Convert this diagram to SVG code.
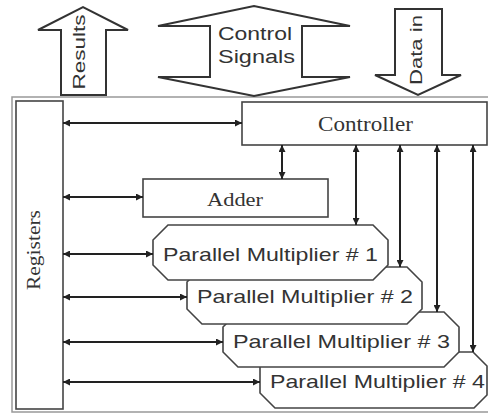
<svg xmlns="http://www.w3.org/2000/svg" width="488" height="415" viewBox="0 0 488 415">
<style>
.box{fill:#fff;stroke:#444;stroke-width:1.6}
.big{fill:#fff;stroke:#333;stroke-width:2;stroke-linejoin:miter}
.serif{font-family:"Liberation Serif","Times New Roman",serif;fill:#333}
.sans{font-family:"Liberation Sans",Arial,sans-serif;fill:#333}
.con{stroke:#222;stroke-width:2;fill:none;marker-start:url(#ah);marker-end:url(#ah)}
</style>
<defs>
<marker id="ah" viewBox="0 0 10 10" refX="10" refY="5" markerUnits="userSpaceOnUse" markerWidth="7" markerHeight="7" orient="auto-start-reverse">
<path d="M0,0 L10,5 L0,10 z" fill="#222"/>
</marker>
</defs>
<rect width="488" height="415" fill="#fff"/>
<g id="frame"><rect x="12" y="97" width="480" height="315" fill="none" stroke="#999" stroke-width="1.5"/></g>
<g id="results">
<polygon class="big" points="61,95 61,30 38,30 83,7 128,30 106,30 106,95"/>
<text class="sans" font-size="17" text-anchor="middle" textLength="75" lengthAdjust="spacingAndGlyphs" transform="translate(85,52) rotate(-90)">Results</text>
</g>
<g id="control-signals">
<polygon class="big" points="210,26 158,26 254,6 350,26 302,26 302,77 350,77 254,96 158,77 210,77"/>
<text class="sans" font-size="18" x="218" y="40" textLength="74" lengthAdjust="spacingAndGlyphs">Control</text>
<text class="sans" font-size="18" x="218" y="63" textLength="77" lengthAdjust="spacingAndGlyphs">Signals</text>
</g>
<g id="data-in">
<polygon class="big" points="395,9 442,9 442,75 461,75 418,95 375,75 395,75"/>
<text class="sans" font-size="16" text-anchor="middle" textLength="70" lengthAdjust="spacingAndGlyphs" transform="translate(422,50) rotate(-90)">Data in</text>
</g>
<g id="registers">
<rect class="box" x="16" y="101" width="47" height="308"/>
<text class="serif" font-size="18" text-anchor="middle" textLength="80" lengthAdjust="spacingAndGlyphs" transform="translate(40,250) rotate(-90)">Registers</text>
</g>
<g id="controller">
<rect class="box" x="242" y="102" width="245" height="43"/>
<text class="serif" font-size="20" x="365.5" y="131" text-anchor="middle" textLength="95" lengthAdjust="spacingAndGlyphs">Controller</text>
</g>
<g id="adder">
<rect class="box" x="143" y="179" width="185" height="38"/>
<text class="serif" font-size="18" x="235" y="206" text-anchor="middle" textLength="56" lengthAdjust="spacingAndGlyphs">Adder</text>
</g>
<g id="mult4">
<polygon class="box" points="275,352 473,352 487,366 487,395 474,408 275,408 260,393 260,367"/>
<text class="sans" font-size="19" x="270" y="388" textLength="215" lengthAdjust="spacingAndGlyphs">Parallel Multiplier # 4</text>
</g>
<g id="mult3">
<polygon class="box" points="238,312 444,312 459,327 459,352 444,367 238,367 223,352 223,327"/>
<text class="sans" font-size="19" x="233" y="348" textLength="217" lengthAdjust="spacingAndGlyphs">Parallel Multiplier # 3</text>
</g>
<g id="mult2">
<polygon class="box" points="202,267 407,267 422,282 422,309 407,324 202,324 187,309 187,282"/>
<text class="sans" font-size="19" x="197" y="303" textLength="216" lengthAdjust="spacingAndGlyphs">Parallel Multiplier # 2</text>
</g>
<g id="mult1">
<polygon class="box" points="168,225 373,225 388,240 388,265 373,280 168,280 153,265 153,240"/>
<text class="sans" font-size="19" x="163" y="261" textLength="215" lengthAdjust="spacingAndGlyphs">Parallel Multiplier # 1</text>
</g>
<g id="connectors">
<line class="con" x1="63" y1="123" x2="242" y2="123"/>
<line class="con" x1="63" y1="197" x2="143" y2="197"/>
<line class="con" x1="63" y1="254" x2="153" y2="254"/>
<line class="con" x1="63" y1="297" x2="187" y2="297"/>
<line class="con" x1="63" y1="342" x2="223" y2="342"/>
<line class="con" x1="63" y1="382" x2="260" y2="382"/>
<line class="con" x1="282" y1="145" x2="282" y2="179"/>
<line class="con" x1="356" y1="145" x2="356" y2="225"/>
<line class="con" x1="400" y1="145" x2="400" y2="267"/>
<line class="con" x1="437" y1="145" x2="437" y2="312"/>
<line class="con" x1="473" y1="145" x2="473" y2="352"/>
</g>
</svg>
